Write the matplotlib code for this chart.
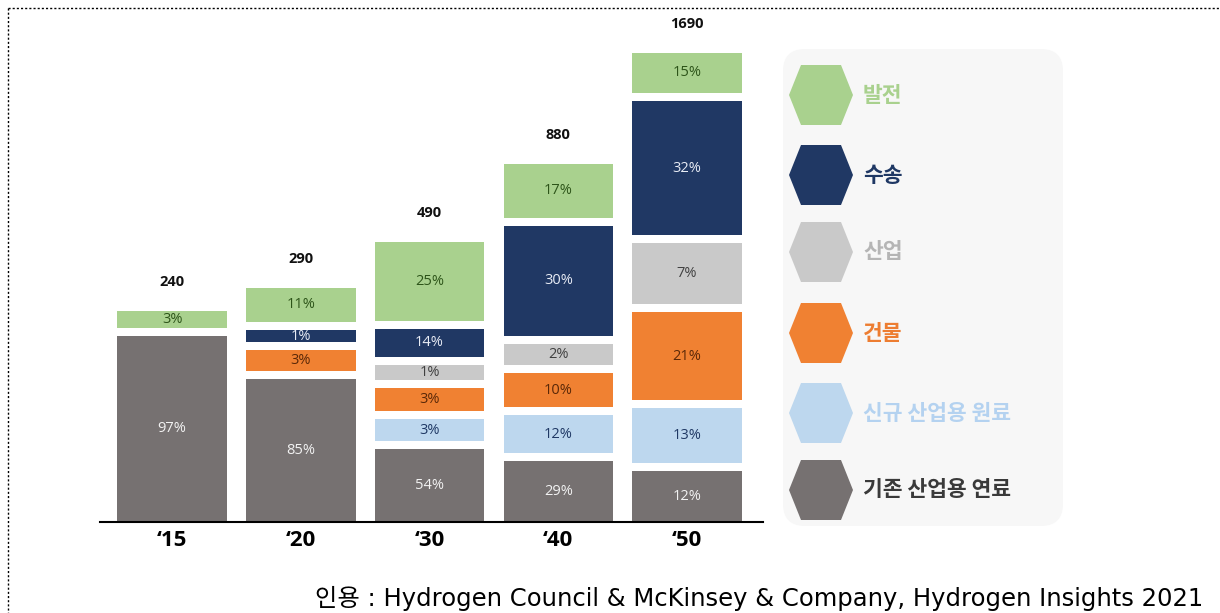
import matplotlib
matplotlib.use("Agg")
import matplotlib.pyplot as plt
from matplotlib.patches import Polygon, FancyBboxPatch

# data
years = ["\u201815", "\u201820", "\u201830", "\u201840", "\u201850"]
totals = [240, 290, 490, 880, 1690]

# stacking order, bottom to top
categories = ["기존 산업용 연료", "신규 산업용 원료", "건물", "산업", "수송", "발전"]

# share labels per category (None = no segment)
pct_fuel = [97, 85, 54, 29, 12]
pct_feed = [None, None, 3, 12, 13]
pct_bldg = [None, 3, 3, 10, 21]
pct_ind = [None, None, 1, 2, 7]
pct_trans = [None, 1, 14, 30, 32]
pct_power = [3, 11, 25, 17, 15]

# drawn segment heights as they appear in the picture (not proportional)
h_fuel = [186, 143, 73, 61, 51]
h_feed = [0, 0, 22, 38, 55]
h_bldg = [0, 21, 23, 34, 88]
h_ind = [0, 0, 15, 21, 61]
h_trans = [0, 12, 28, 110, 134]
h_power = [17, 34, 79, 54, 40]

source = "인용 : Hydrogen Council & McKinsey & Company, Hydrogen Insights 2021"

pcts = [pct_fuel, pct_feed, pct_bldg, pct_ind, pct_trans, pct_power]
heights = [h_fuel, h_feed, h_bldg, h_ind, h_trans, h_power]
fills = ["#767171", "#bdd7ee", "#f08132", "#c9c9c9", "#203864", "#a9d18e"]
label_cols = ["#f2f2f2", "#1f3864", "#5a2808", "#404040", "#e8ecf5", "#2d5419"]
legend_txt_cols = ["#3a3a3a", "#b4d2f0", "#ed7d31", "#b5b5b5", "#1f3864", "#a9d18e"]

W, H = 1220, 613
fig = plt.figure(figsize=(W / 100, H / 100), dpi=100)

# overlay in pixel units for frame, legend and source line
ov = fig.add_axes([0, 0, 1, 1], zorder=0)
ov.set_xlim(0, W)
ov.set_ylim(H, 0)
ov.axis("off")
ov.plot([7.5, 7.5], [8, H], color="black", lw=1, ls=(0, (1.5, 1.5)))
ov.plot([7.5, W], [8, 8], color="black", lw=1, ls=(0, (1.5, 1.5)))

# bar chart
ax = fig.add_axes([100 / W, (H - 522) / H, 663 / W, 522 / H], zorder=1)
ax.patch.set_visible(False)
ax.set_xlim(-0.56, 4.59)
ax.set_ylim(0, 522)
gap = 8
for i in range(len(years)):
    bottom = 0
    for k in range(len(categories)):
        h = heights[k][i]
        if h == 0:
            continue
        ax.bar(i, h, bottom=bottom, width=0.85, color=fills[k], linewidth=0)
        ax.text(i, bottom + h / 2, f"{pcts[k][i]}%", ha="center", va="center",
                fontsize=10.5, color=label_cols[k], family="Open Sans")
        bottom += h + gap
    ax.text(i, bottom - gap + 29, str(totals[i]), ha="center", va="center",
            fontsize=10.5, fontweight="bold", color="#111111", family="Open Sans")

for s in ["top", "right", "left"]:
    ax.spines[s].set_visible(False)
ax.spines["bottom"].set_linewidth(1.5)
ax.set_yticks([])
ax.set_xticks(range(len(years)))
ax.set_xticklabels(years, fontsize=16, fontweight="bold", family="Open Sans")
ax.tick_params(axis="x", length=0, pad=6)

# legend panel
ov.add_patch(FancyBboxPatch((783, 49), 280, 477,
                            boxstyle="round,pad=0,rounding_size=22",
                            fc="#f7f7f7", ec="none"))
legend_y = [95, 175, 252, 333, 413, 490]
for j, k in enumerate(reversed(range(len(categories)))):
    cx, cy = 821, legend_y[j]
    hexagon = [(cx - 32, cy), (cx - 20, cy - 30), (cx + 20, cy - 30),
               (cx + 32, cy), (cx + 20, cy + 30), (cx - 20, cy + 30)]
    ov.add_patch(Polygon(hexagon, closed=True, fc=fills[k], ec="none"))
    ov.text(863, cy, categories[k], ha="left", va="center", fontsize=15.5,
            fontweight="bold", color=legend_txt_cols[k],
            family=["Noto Sans CJK KR", "DejaVu Sans"])

ov.text(1203, 611, source, ha="right", va="bottom", fontsize=17.5,
        color="black", family=["DejaVu Sans", "Noto Sans CJK KR"])

fig.savefig("out.png", dpi=100)
